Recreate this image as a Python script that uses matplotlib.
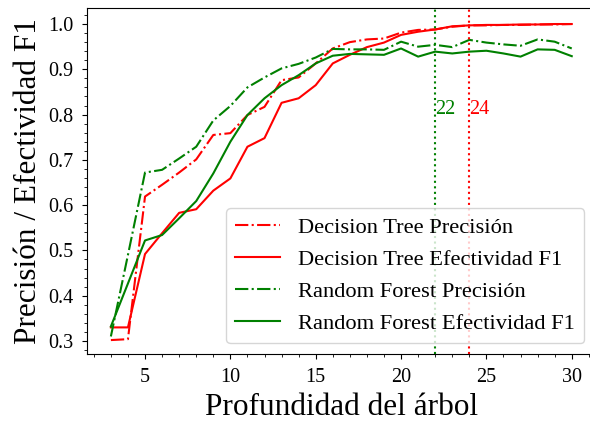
import matplotlib
matplotlib.use("Agg")
import matplotlib.pyplot as plt
from matplotlib.ticker import MultipleLocator

plt.rcParams['font.family'] = ['Liberation Serif', 'DejaVu Serif']

depth = list(range(3, 31))

dt_prec = [0.302, 0.304, 0.619, 0.645, 0.672, 0.701, 0.755, 0.759, 0.799, 0.817,
           0.876, 0.882, 0.913, 0.946, 0.960, 0.966, 0.968, 0.981, 0.987, 0.988,
           0.994, 0.997, 0.997, 0.998, 0.998, 0.999, 0.999, 1.000]
dt_f1 = [0.330, 0.330, 0.492, 0.538, 0.583, 0.591, 0.632, 0.659, 0.729, 0.748,
         0.826, 0.836, 0.865, 0.913, 0.932, 0.949, 0.959, 0.976, 0.983, 0.988,
         0.995, 0.997, 0.998, 0.998, 0.999, 0.999, 1.000, 1.000]
rf_prec = [0.310, 0.490, 0.672, 0.678, 0.703, 0.729, 0.787, 0.819, 0.860, 0.882,
           0.902, 0.912, 0.926, 0.945, 0.944, 0.944, 0.943, 0.961, 0.950, 0.954,
           0.949, 0.965, 0.959, 0.955, 0.952, 0.966, 0.961, 0.946]
rf_f1 = [0.332, 0.427, 0.522, 0.534, 0.571, 0.609, 0.670, 0.740, 0.799, 0.836,
         0.865, 0.887, 0.913, 0.930, 0.934, 0.933, 0.932, 0.946, 0.928, 0.939,
         0.935, 0.939, 0.941, 0.935, 0.928, 0.944, 0.943, 0.929]

best_rf = 22
best_dt = 24

fig = plt.figure(figsize=(5.9, 4.24), dpi=100)
ax = fig.add_axes([0.148, 0.1644, 0.861, 0.816])

ax.plot(depth, dt_prec, '-.', color='red', lw=1.5, label='Decision Tree Precisión')
ax.plot(depth, dt_f1, '-', color='red', lw=1.5, label='Decision Tree Efectividad F1')
ax.plot(depth, rf_prec, '-.', color='green', lw=1.5, label='Random Forest Precisión')
ax.plot(depth, rf_f1, '-', color='green', lw=1.5, label='Random Forest Efectividad F1')

ax.axvline(best_rf, color='green', ls=':', lw=1.5)
ax.axvline(best_dt, color='red', ls=':', lw=1.5)
ax.text(best_rf, 0.812, str(best_rf), color='green', fontsize=14.5, ha='left', va='center')
ax.text(best_dt, 0.812, str(best_dt), color='red', fontsize=14.5, ha='left', va='center')

ax.set_xlim(1.62, 31.38)
ax.set_ylim(0.2706, 1.0347)
ax.xaxis.set_major_locator(MultipleLocator(5))
ax.xaxis.set_minor_locator(MultipleLocator(1))
ax.yaxis.set_major_locator(MultipleLocator(0.1))
ax.yaxis.set_minor_locator(MultipleLocator(0.02))
ax.tick_params(labelsize=14.5, pad=6.5)

ax.set_xlabel('Profundidad del árbol', fontsize=22.5, labelpad=4.5)
ax.set_ylabel('Precisión / Efectividad F1', fontsize=22.5, labelpad=4)
ax.legend(loc='lower right', fontsize=16.2)

fig.savefig('out.png', dpi=100)
